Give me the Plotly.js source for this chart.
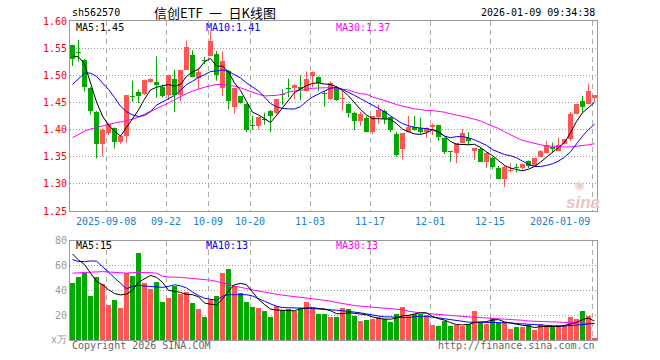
<!DOCTYPE html>
<html>
<head>
<meta charset="utf-8">
<script src="https://cdn.plot.ly/plotly-3.0.1.min.js"></script>
<style>
html,body{margin:0;padding:0;background:#fff;}
#chart{width:660px;height:360px;}
</style>
</head>
<body>
<div id="chart"></div>
<script>
// ---------------- data ----------------
const dates = [
'2025-08-29',
'2025-09-01','2025-09-02','2025-09-03','2025-09-04','2025-09-05',
'2025-09-08','2025-09-09','2025-09-10','2025-09-11','2025-09-12',
'2025-09-15','2025-09-16','2025-09-17','2025-09-18','2025-09-19',
'2025-09-22','2025-09-23','2025-09-24','2025-09-25','2025-09-26',
'2025-09-29','2025-09-30',
'2025-10-09','2025-10-10',
'2025-10-13','2025-10-14','2025-10-15','2025-10-16','2025-10-17',
'2025-10-20','2025-10-21','2025-10-22','2025-10-23','2025-10-24',
'2025-10-27','2025-10-28','2025-10-29','2025-10-30','2025-10-31',
'2025-11-03','2025-11-04','2025-11-05','2025-11-06','2025-11-07',
'2025-11-10','2025-11-11','2025-11-12','2025-11-13','2025-11-14',
'2025-11-17','2025-11-18','2025-11-19','2025-11-20','2025-11-21',
'2025-11-24','2025-11-25','2025-11-26','2025-11-27','2025-11-28',
'2025-12-01','2025-12-02','2025-12-03','2025-12-04','2025-12-05',
'2025-12-08','2025-12-09','2025-12-10','2025-12-11','2025-12-12',
'2025-12-15','2025-12-16','2025-12-17','2025-12-18','2025-12-19',
'2025-12-22','2025-12-23','2025-12-24','2025-12-25','2025-12-26',
'2025-12-29','2025-12-30','2025-12-31',
'2026-01-05','2026-01-06','2026-01-07','2026-01-08','2026-01-09'
];

const open = [1.555,1.543,1.529,1.477,1.433,1.374,1.393,1.402,1.377,1.388,
1.461,1.470,1.465,1.487,1.488,1.479,1.463,1.494,1.464,1.510,
1.538,1.495,1.527,1.536,1.540,1.476,1.508,1.442,1.462,1.448,
1.409,1.406,1.418,1.435,1.431,1.465,1.476,1.477,1.478,1.471,
1.498,1.496,1.466,1.456,1.477,1.457,1.448,1.430,1.416,1.422,
1.396,1.423,1.435,1.423,1.392,1.364,1.396,1.404,1.402,1.395,
1.404,1.408,1.385,1.360,1.357,1.375,1.384,1.361,1.364,1.341,
1.347,1.329,1.309,1.324,1.330,1.329,1.342,1.332,1.350,1.357,
1.368,1.361,1.373,1.382,1.429,1.452,1.448,1.459];

const high = [1.556,1.565,1.530,1.478,1.434,1.402,1.413,1.404,1.389,1.463,
1.490,1.474,1.492,1.495,1.535,1.483,1.501,1.510,1.509,1.564,
1.546,1.513,1.534,1.581,1.545,1.544,1.510,1.476,1.462,1.448,
1.425,1.424,1.431,1.436,1.456,1.474,1.494,1.484,1.500,1.507,
1.507,1.498,1.471,1.489,1.480,1.474,1.448,1.433,1.433,1.425,
1.425,1.446,1.437,1.423,1.396,1.393,1.425,1.425,1.422,1.404,
1.411,1.408,1.385,1.360,1.375,1.401,1.395,1.366,1.368,1.358,
1.350,1.333,1.334,1.338,1.337,1.337,1.343,1.348,1.362,1.379,
1.376,1.385,1.382,1.433,1.448,1.462,1.484,1.463];

const low = [1.517,1.525,1.470,1.427,1.347,1.351,1.390,1.365,1.374,1.376,
1.451,1.449,1.464,1.486,1.459,1.459,1.454,1.432,1.452,1.510,
1.496,1.474,1.520,1.535,1.490,1.462,1.437,1.429,1.448,1.395,
1.399,1.400,1.409,1.395,1.428,1.446,1.459,1.456,1.454,1.470,
1.478,1.471,1.442,1.454,1.453,1.435,1.422,1.399,1.407,1.395,
1.392,1.410,1.410,1.395,1.350,1.345,1.396,1.398,1.392,1.385,
1.390,1.379,1.355,1.341,1.338,1.375,1.372,1.344,1.341,1.329,
1.327,1.309,1.294,1.321,1.321,1.326,1.329,1.331,1.349,1.356,
1.358,1.361,1.372,1.379,1.428,1.431,1.446,1.451];

const close = [1.530,1.541,1.478,1.434,1.374,1.399,1.411,1.378,1.388,1.463,
1.460,1.462,1.491,1.493,1.482,1.462,1.501,1.464,1.509,1.553,
1.496,1.506,1.526,1.564,1.500,1.526,1.452,1.476,1.449,1.399,
1.407,1.424,1.417,1.425,1.456,1.464,1.475,1.482,1.474,1.494,
1.506,1.486,1.465,1.486,1.454,1.458,1.430,1.416,1.428,1.396,
1.425,1.436,1.419,1.399,1.354,1.393,1.404,1.400,1.396,1.402,
1.409,1.387,1.359,1.358,1.375,1.393,1.379,1.366,1.341,1.357,
1.331,1.309,1.331,1.325,1.329,1.337,1.332,1.348,1.361,1.372,
1.364,1.372,1.382,1.429,1.448,1.442,1.471,1.463];

const ma5 = [1.535,1.534,1.521,1.487,1.451,1.425,1.408,1.397,1.388,1.404,
1.421,1.436,1.456,1.473,1.478,1.480,1.483,1.480,1.483,1.498,
1.506,1.511,1.525,1.531,1.517,1.517,1.506,1.486,1.472,1.452,
1.432,1.427,1.420,1.413,1.426,1.440,1.455,1.468,1.475,1.481,
1.485,1.486,1.484,1.483,1.479,1.472,1.462,1.449,1.437,1.427,
1.420,1.420,1.420,1.419,1.411,1.401,1.396,1.392,1.391,1.394,
1.400,1.396,1.388,1.378,1.373,1.372,1.372,1.373,1.367,1.359,
1.352,1.343,1.334,1.329,1.326,1.324,1.327,1.332,1.340,1.349,
1.357,1.366,1.376,1.394,1.415,1.431,1.440,1.450];

const ma10 = [1.483,1.494,1.504,1.504,1.498,1.486,1.474,1.459,1.443,1.433,
1.427,1.424,1.426,1.433,1.445,1.451,1.457,1.463,1.472,1.483,
1.489,1.496,1.501,1.507,1.508,1.510,1.507,1.501,1.495,1.486,
1.479,1.471,1.460,1.448,1.442,1.439,1.438,1.438,1.442,1.452,
1.460,1.466,1.471,1.476,1.478,1.474,1.469,1.463,1.457,1.451,
1.445,1.439,1.433,1.425,1.418,1.411,1.407,1.404,1.403,1.402,
1.400,1.395,1.388,1.385,1.387,1.387,1.385,1.381,1.376,1.371,
1.363,1.358,1.354,1.352,1.348,1.342,1.336,1.332,1.332,1.334,
1.337,1.342,1.349,1.359,1.374,1.388,1.400,1.410];

const ma30 = [1.385,1.391,1.397,1.401,1.404,1.407,1.410,1.412,1.414,1.416,
1.419,1.423,1.428,1.433,1.438,1.443,1.449,1.455,1.461,1.466,
1.471,1.475,1.478,1.481,1.483,1.483,1.482,1.480,1.477,1.473,
1.468,1.465,1.462,1.462,1.463,1.465,1.469,1.471,1.472,1.474,
1.476,1.477,1.477,1.477,1.476,1.475,1.473,1.469,1.466,1.465,
1.460,1.457,1.454,1.450,1.446,1.443,1.440,1.438,1.437,1.435,
1.435,1.434,1.432,1.429,1.427,1.425,1.422,1.419,1.416,1.411,
1.407,1.402,1.396,1.390,1.385,1.380,1.377,1.374,1.372,1.370,
1.369,1.368,1.368,1.368,1.369,1.370,1.372,1.374];

// volume, 万 shares
const volume = [45.9,50.7,53.9,35.2,50.4,44.8,28.3,32.3,25.9,53.6,
51.2,69.9,45.9,40.8,46.7,30.7,33.9,43.7,36.8,38.4,
29.9,25.1,18.7,32.0,35.2,53.9,57.6,43.7,37.6,30.4,
26.4,25.6,23.2,18.7,27.2,24.0,24.8,23.2,26.1,30.4,
26.1,21.3,21.3,18.7,18.7,25.9,24.8,19.5,15.5,16.0,
17.1,18.7,17.1,14.7,20.8,26.7,20.0,21.3,21.3,20.0,
12.0,11.2,15.5,11.2,12.0,11.2,12.5,23.5,13.9,12.8,
17.9,13.9,14.7,8.8,10.7,10.7,12.0,8.0,12.8,10.7,
11.2,12.0,12.0,18.4,16.8,23.2,19.5,1.9];

const vma5 = [69.3,64.5,60.8,53.9,47.2,44.5,40.5,37.5,36.3,37.0,
40.0,46.6,49.3,52.0,50.5,46.5,40.0,39.2,38.4,36.7,
36.5,34.8,29.8,28.8,28.2,33.0,39.5,44.5,45.6,44.6,
39.1,32.7,28.6,24.9,24.2,23.7,23.6,23.6,25.1,25.7,
26.1,25.4,25.0,23.6,21.2,21.2,21.9,21.5,20.9,20.3,
18.6,17.4,16.9,16.7,17.7,19.6,19.9,20.7,22.0,21.9,
18.9,17.2,16.0,14.0,12.4,12.2,12.5,14.1,14.6,14.8,
16.1,16.4,14.6,13.6,13.2,11.8,11.4,10.0,10.8,10.8,
10.9,10.9,11.7,12.9,14.1,16.5,17.6,15.2];

const vma10 = [64.8,63.2,63.2,63.7,63.5,58.7,54.7,50.1,45.3,41.3,
43.2,44.0,43.5,43.2,42.7,42.4,43.2,44.5,43.7,41.9,
38.7,35.7,33.6,32.5,32.0,35.2,36.5,36.5,36.5,36.5,
35.5,33.1,31.2,29.1,27.2,26.1,26.1,26.1,25.9,25.6,
25.3,25.1,24.8,24.5,24.0,23.6,23.2,22.6,21.9,21.0,
20.0,19.3,18.7,18.4,18.1,18.1,18.1,18.7,19.2,19.0,
18.7,17.9,17.1,16.3,15.5,15.0,14.4,14.4,14.4,14.4,
14.4,14.4,14.4,13.8,13.3,13.0,12.8,12.2,11.7,11.4,
11.2,11.2,11.2,11.7,12.3,12.8,13.3,13.3];

const vma30 = [53.9,54.2,54.6,54.9,55.1,55.1,54.8,54.5,54.2,53.9,
54.3,54.5,54.6,54.3,53.8,51.5,50.7,50.7,50.5,50.0,
49.6,49.2,48.8,48.2,47.2,45.8,44.5,43.5,42.4,41.2,
40.5,39.5,38.4,37.4,36.8,36.1,35.4,34.8,34.2,33.7,
33.2,32.6,32.0,31.3,30.2,29.3,28.5,27.8,27.3,26.8,
26.3,25.9,25.5,25.1,24.7,24.4,23.2,22.2,21.8,21.4,
20.9,20.3,19.9,19.6,19.4,19.0,18.6,18.2,17.9,17.6,
17.3,17.1,16.8,16.6,16.4,15.9,15.3,15.1,14.9,14.7,
14.5,14.3,14.1,14.1,14.0,13.9,13.6,13.3];

const tickDates = ['2025-09-08','2025-09-22','2025-10-09','2025-10-20','2025-11-03',
                   '2025-11-17','2025-12-01','2025-12-15','2026-01-09'];
const tickText  = ['2025-09-08','09-22','10-09','10-20','11-03',
                   '11-17','12-01','12-15','2026-01-09'];
const priceTicks = [1.25,1.30,1.35,1.40,1.45,1.50,1.55,1.60];
const volTicks = [0,20,40,60,80];
const volTickText = ['x万','20','40','60','80'];

// ---------------- build ----------------
const RED = '#ff5555', GREEN = '#00a800';
const N = dates.length;
const idx = dates.map((d,i)=>i);
const up = close.map((c,i)=> c >= open[i]);
const cols = up.map(u => u ? RED : GREEN);
const bodyBase = open.map((o,i)=> Math.min(o, close[i]));
const bodyH = open.map((o,i)=> Math.max(Math.abs(close[i]-o), 0.0019));
const W = 5/6;           // body width in candle slots
const EDGE = 5/12;       // left edge offset of a slot
const xr = [-EDGE, N-1+EDGE];

function wick(flag){
  const x=[], y=[];
  for(let i=0;i<N;i++){ if(up[i]===flag){ x.push(i,i,null); y.push(low[i],high[i],null);} }
  return {x,y};
}
const wr = wick(true), wg = wick(false);
const tickIdx = tickDates.map(d => dates.indexOf(d));
const gridX = tickIdx.map(i => i - EDGE);

const MONO = 'DejaVu Sans Mono';
const traces = [
  {type:'bar', x:idx, base:bodyBase, y:bodyH, width:W, marker:{color:cols, line:{width:0}},
   xaxis:'x', yaxis:'y', hoverinfo:'skip'},
  {type:'scatter', mode:'lines', x:wr.x, y:wr.y, line:{color:RED, width:1}, xaxis:'x', yaxis:'y', hoverinfo:'skip', connectgaps:false},
  {type:'scatter', mode:'lines', x:wg.x, y:wg.y, line:{color:GREEN, width:1}, xaxis:'x', yaxis:'y', hoverinfo:'skip', connectgaps:false},
  {type:'scatter', mode:'lines', x:idx, y:ma30, line:{color:'#ff00ff', width:1}, xaxis:'x', yaxis:'y', hoverinfo:'skip'},
  {type:'scatter', mode:'lines', x:idx, y:ma10, line:{color:'#0000ff', width:1}, xaxis:'x', yaxis:'y', hoverinfo:'skip'},
  {type:'scatter', mode:'lines', x:idx, y:ma5, line:{color:'#000000', width:1}, xaxis:'x', yaxis:'y', hoverinfo:'skip'},
  {type:'bar', x:idx, y:volume, width:W, marker:{color:cols, line:{width:0}}, xaxis:'x2', yaxis:'y2', hoverinfo:'skip'},
  {type:'scatter', mode:'lines', x:idx, y:vma30, line:{color:'#ff00ff', width:1}, xaxis:'x2', yaxis:'y2', hoverinfo:'skip'},
  {type:'scatter', mode:'lines', x:idx, y:vma10, line:{color:'#0000ff', width:1}, xaxis:'x2', yaxis:'y2', hoverinfo:'skip'},
  {type:'scatter', mode:'lines', x:idx, y:vma5, line:{color:'#000000', width:1}, xaxis:'x2', yaxis:'y2', hoverinfo:'skip'}
];

const xBase = {range:xr, tickvals:gridX, showticklabels:false, ticks:'', showgrid:true,
  gridcolor:'#aaaaaa', griddash:'5px,4px', gridwidth:1, zeroline:false, showline:true,
  mirror:true, linecolor:'#999999', linewidth:1, fixedrange:true};

const ann = [];
function A(o){ ann.push(Object.assign({showarrow:false, xref:'paper', yref:'paper', font:{family:MONO, size:10, color:'#000'}}, o)); }
// header
A({text:'sh562570', x:0, xanchor:'left', y:1.0251, yanchor:'middle'});
A({text:'信创ETF\u2002一\u2002日K线图', x:0.1548, xanchor:'left', y:1.0251, yanchor:'middle',
   font:{family:'Noto Sans CJK SC', size:13, color:'#000'}});
A({text:'2026-01-09 09:34:38', x:1, xanchor:'right', y:1.0251, yanchor:'middle'});
// price legend
A({text:'MA5:'+ma5[N-1].toFixed(2), x:0.008, xanchor:'left', y:0.9796, yanchor:'middle', font:{family:MONO,size:10,color:'#000'}});
A({text:'MA10:'+ma10[N-1].toFixed(2), x:0.254, xanchor:'left', y:0.9796, yanchor:'middle', font:{family:MONO,size:10,color:'#0000ff'}});
A({text:'MA30:'+ma30[N-1].toFixed(2), x:0.5, xanchor:'left', y:0.9796, yanchor:'middle', font:{family:MONO,size:10,color:'#ff00ff'}});
// volume legend
A({text:'MA5:'+Math.round(vma5[N-1]), x:0.008, xanchor:'left', y:0.2947, yanchor:'middle', font:{family:MONO,size:10,color:'#000'}});
A({text:'MA10:'+Math.round(vma10[N-1]), x:0.254, xanchor:'left', y:0.2947, yanchor:'middle', font:{family:MONO,size:10,color:'#0000ff'}});
A({text:'MA30:'+Math.round(vma30[N-1]), x:0.5, xanchor:'left', y:0.2947, yanchor:'middle', font:{family:MONO,size:10,color:'#ff00ff'}});
// date labels
tickIdx.forEach((ti,j)=>{
  const last = j === tickIdx.length-1;
  ann.push({showarrow:false, xref:'x', yref:'paper', x:gridX[j], y:0.3708, yanchor:'middle',
    xanchor: last ? 'right' : 'center', text:tickText[j],
    font:{family:MONO, size:10, color:'#1a7fd0'}});
});
// footer
A({text:'Copyright 2026 SINA.COM', x:0, xanchor:'left', y:-0.018, yanchor:'middle', font:{family:MONO,size:10,color:'#666'}});
A({text:'http://finance.sina.com.cn', x:1, xanchor:'right', y:-0.018, yanchor:'middle', font:{family:MONO,size:10,color:'#666'}});
// watermark
A({text:'<b><i>sina</i></b>', x:0.973, xanchor:'center', y:0.432, yanchor:'middle',
   font:{family:'Liberation Sans', size:17, color:'#ecc4c4'}});
A({text:'◉', x:0.965, xanchor:'center', y:0.485, yanchor:'middle',
   font:{family:'DejaVu Sans', size:12, color:'#f0cccc'}});

const layout = {
  width:660, height:360,
  margin:{l:70, r:63, t:21, b:20, pad:0},
  paper_bgcolor:'#ffffff', plot_bgcolor:'#ffffff',
  showlegend:false, bargap:0,
  font:{family:MONO, size:10, color:'#000'},
  xaxis: Object.assign({}, xBase, {anchor:'y', domain:[0,1]}),
  xaxis2: Object.assign({}, xBase, {anchor:'y2', domain:[0,1]}),
  yaxis: {domain:[0.4044,1], range:[1.25,1.60], tickvals:priceTicks, ticktext:priceTicks.map(v=>v.toFixed(2)),
    tickfont:{family:MONO, size:10, color:'#ff0000'}, ticks:'', showgrid:true, gridcolor:'#999999',
    griddash:'1px,2px', zeroline:false, showline:true, mirror:true, linecolor:'#999999', linewidth:1,
    anchor:'x', fixedrange:true},
  yaxis2: {domain:[0,0.3113], range:[0,80], tickvals:volTicks, ticktext:volTickText,
    tickfont:{family:MONO, size:10, color:'#999999'}, ticks:'', showgrid:true, gridcolor:'#999999',
    griddash:'1px,2px', zeroline:false, showline:true, mirror:true, linecolor:'#999999', linewidth:1,
    anchor:'x2', fixedrange:true},
  annotations: ann
};

Plotly.newPlot('chart', traces, layout, {staticPlot:true, displayModeBar:false});
</script>
</body>
</html>
